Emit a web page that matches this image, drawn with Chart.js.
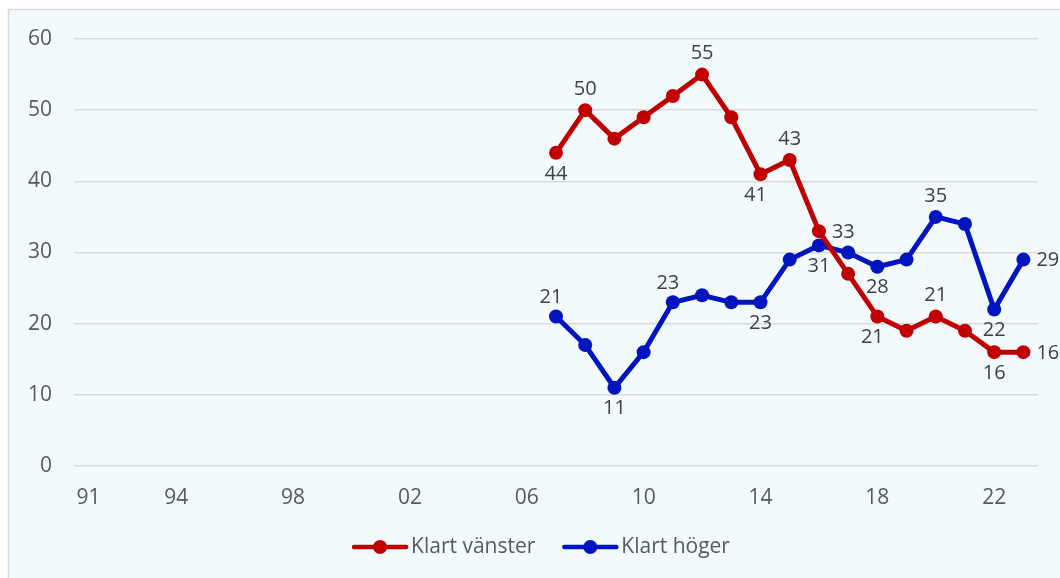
<!DOCTYPE html>
<html>
<head>
<meta charset="utf-8">
<script src="https://cdn.jsdelivr.net/npm/chart.js@4.4.1/dist/chart.umd.min.js"></script>
<style>
  html, body { margin: 0; padding: 0; background: #fff; }
  #wrap { width: 1060px; height: 578px; position: relative; }
</style>
</head>
<body>
<div id="wrap"><canvas id="chart" width="1060" height="578"></canvas></div>
<script>
const years = ['91','92','93','94','95','96','97','98','99','00','01','02','03','04','05','06',
  '07','08','09','10','11','12','13','14','15','16','17','18','19','20','21','22','23'];
const tickLabels = ['91','94','98','02','06','10','14','18','22'];

const vanster = [null,null,null,null,null,null,null,null,null,null,null,null,null,null,null,null,
  44,50,46,49,52,55,49,41,43,33,27,21,19,21,19,16,16];
const hoger = [null,null,null,null,null,null,null,null,null,null,null,null,null,null,null,null,
  21,17,11,16,23,24,23,23,29,31,30,28,29,35,34,22,29];

// which points get a value label, and where it sits
const vansterLabels = { '07':'below', '08':'above', '12':'above', '14':'belowL', '15':'above',
  '16':'right', '18':'belowL', '20':'above', '22':'below', '23':'right' };
const hogerLabels = { '07':'aboveL', '09':'below', '11':'aboveL', '14':'below', '16':'below',
  '18':'below', '20':'above', '22':'below', '23':'right' };

const RED = '#C00000';
const BLUE = '#0014C0';
const FONT = "'Open Sans', 'Noto Sans', sans-serif";

const frame = {
  id: 'frame',
  beforeDraw(chart) {
    const c = chart.ctx;
    c.save();
    c.fillStyle = '#fff';
    c.fillRect(0, 0, chart.width, chart.height);
    c.fillStyle = '#F2FAFD';
    c.fillRect(8.5, 9.5, chart.width, chart.height);
    c.strokeStyle = '#D9D9D9';
    c.lineWidth = 1.5;
    c.strokeRect(8.5, 9.5, chart.width + 10, chart.height + 10);
    c.restore();
  }
};

const valueLabels = {
  id: 'valueLabels',
  afterDatasetsDraw(chart) {
    const c = chart.ctx;
    const sets = [vansterLabels, hogerLabels];
    c.save();
    c.font = '20px ' + FONT;
    c.fillStyle = '#404040';
    c.textBaseline = 'middle';
    chart.data.datasets.forEach((ds, di) => {
      const meta = chart.getDatasetMeta(di);
      const cfg = sets[di];
      meta.data.forEach((pt, i) => {
        const pos = cfg[years[i]];
        if (!pos || ds.data[i] == null) return;
        let x = pt.x, y = pt.y;
        c.textAlign = 'center';
        if (pos === 'above') y -= 21;
        else if (pos === 'aboveL') { y -= 19; x -= 5; }
        else if (pos === 'below') y += 21;
        else if (pos === 'belowL') { y += 21; x -= 5; }
        else if (pos === 'right') { c.textAlign = 'left'; x += 13; y += 1; }
        c.fillText(String(ds.data[i]), x, y);
      });
    });
    c.restore();
  }
};

const legendLine = {
  id: 'legendLine',
  afterDraw(chart) {
    const c = chart.ctx;
    c.save();
    c.font = '21px ' + FONT;
    const lineW = 56, gapText = 3, gapItem = 27;
    const items = chart.data.datasets.map(ds => ({ text: ds.label, color: ds.borderColor, w: c.measureText(ds.label).width }));
    let total = 0;
    items.forEach((it, i) => { total += lineW + gapText + it.w + (i ? gapItem : 0); });
    let x = 541 - total / 2;
    const y = 547;
    items.forEach((it, i) => {
      if (i) x += gapItem;
      c.strokeStyle = it.color;
      c.lineWidth = 4.5;
      c.lineCap = 'round';
      c.beginPath(); c.moveTo(x + 2, y); c.lineTo(x + lineW - 2, y); c.stroke();
      c.fillStyle = it.color;
      c.beginPath(); c.arc(x + lineW / 2, y, 7, 0, Math.PI * 2); c.fill();
      c.fillStyle = '#595959';
      c.textBaseline = 'middle';
      c.textAlign = 'left';
      c.fillText(it.text, x + lineW + gapText, y);
      x += lineW + gapText + it.w;
    });
    c.restore();
  }
};

new Chart(document.getElementById('chart'), {
  type: 'line',
  data: {
    labels: years,
    datasets: [
      { label: 'Klart vänster', data: vanster, borderColor: RED, backgroundColor: RED,
        borderWidth: 5, pointRadius: 7, pointBackgroundColor: RED, pointBorderWidth: 0, tension: 0 },
      { label: 'Klart höger', data: hoger, borderColor: BLUE, backgroundColor: BLUE,
        borderWidth: 5, pointRadius: 7, pointBackgroundColor: BLUE, pointBorderWidth: 0, tension: 0 }
    ]
  },
  options: {
    responsive: false,
    animation: false,
    layout: { padding: { top: 39, right: 22, left: 0, bottom: 0 } },
    plugins: { legend: { display: false }, tooltip: { enabled: false } },
    scales: {
      x: {
        offset: true,
        grid: { display: false },
        border: { display: false },
        ticks: {
          autoSkip: false, maxRotation: 0, padding: 11,
          color: '#595959', font: { family: FONT, size: 21 },
          callback(value) {
            const l = this.getLabelForValue(value);
            return tickLabels.includes(l) ? l : null;
          }
        },
        afterFit(scale) { scale.height = 112; }
      },
      y: {
        min: 0, max: 60,
        grid: { color: '#D9D9D9', lineWidth: 1.5, drawTicks: false },
        border: { display: false },
        ticks: { stepSize: 10, padding: 22, color: '#595959', font: { family: FONT, size: 21 } },
        afterFit(scale) { scale.width = 74; }
      }
    }
  },
  plugins: [frame, valueLabels, legendLine]
});
</script>
</body>
</html>
